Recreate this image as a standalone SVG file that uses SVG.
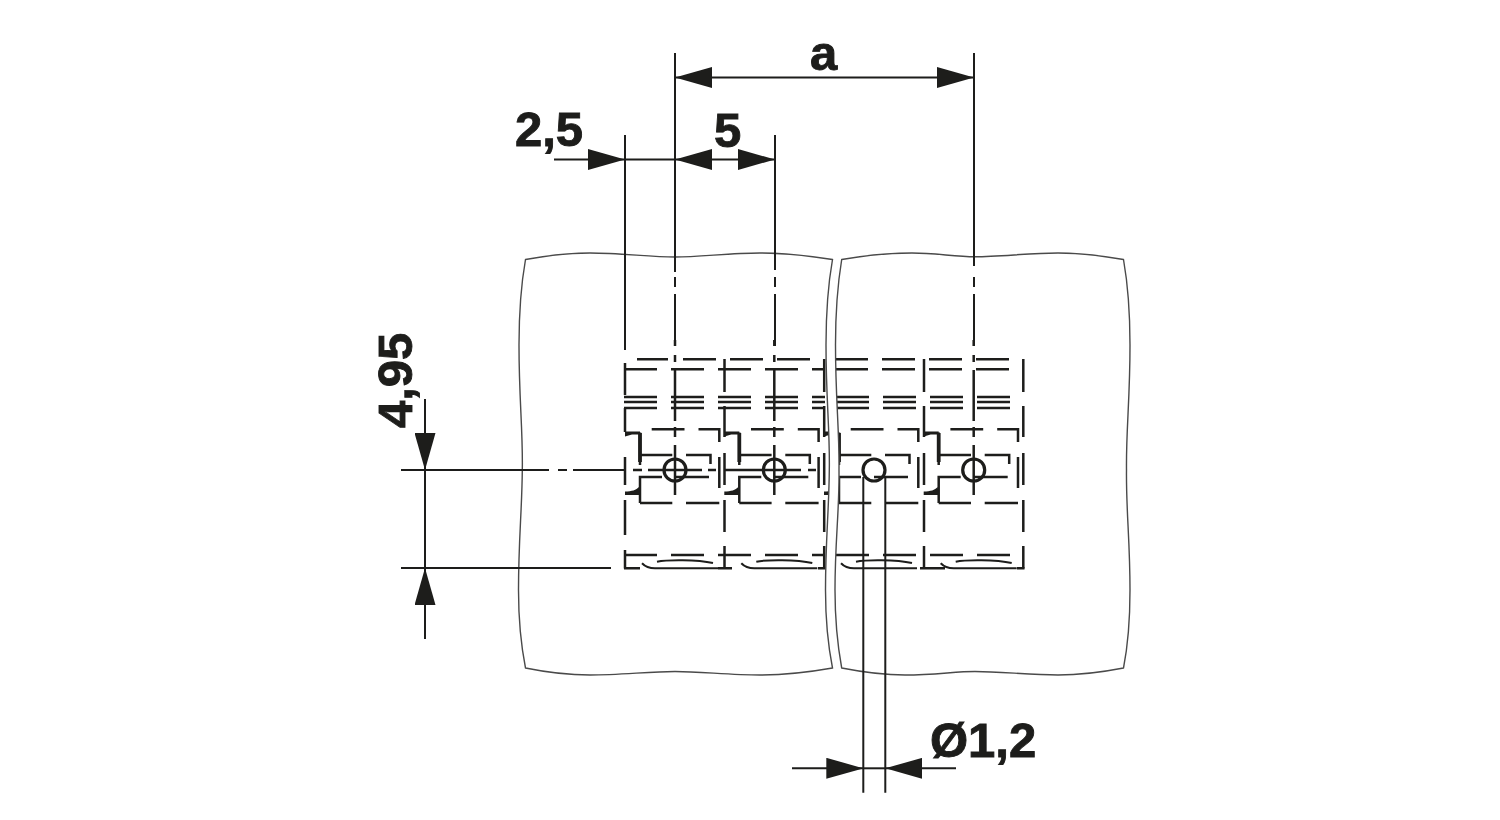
<svg xmlns="http://www.w3.org/2000/svg" xmlns:xlink="http://www.w3.org/1999/xlink" width="1500" height="820" viewBox="0 0 1500 820">
<style>
.edge{fill:none;stroke:#4a4a4a;stroke-width:1.4}
.dash{fill:none;stroke:#1d1d1b;stroke-width:2.5}
.dim{fill:none;stroke:#1d1d1b;stroke-width:2}
.arr{fill:none;stroke:#1d1d1b;stroke-width:2}
.thick{fill:none;stroke:#1d1d1b;stroke-width:3.8}
.solid{fill:#1d1d1b;stroke:none}
.hole{fill:none;stroke:#1d1d1b;stroke-width:3.2}
.label{font-family:"Liberation Sans",Arial,sans-serif;font-weight:700;font-size:49px;fill:#1d1d1b;stroke:#1d1d1b;stroke-width:.9}
</style>
<defs>
<marker id="tip" markerUnits="userSpaceOnUse" markerWidth="37" markerHeight="21" viewBox="0 -10.5 37 21" refX="37" refY="0" orient="auto"><path d="M0-10.5L37 0L0 10.5Z" fill="#1d1d1b"/></marker>
<g id="pin">
<path class="dash" d="M-23.3 429.3H9.5M23.5 429.3H44.3V442M44.3 457V488M-35 432.5V465M-35 455H-2.7M11 455H35.5V464M-35 503V477H-13M0 477H34M-35 503H-2.7M11 503H44.3"/>
<path class="dash" style="stroke-width:2" d="M-33 563.3C-30 566.5-26 568.3-20 568.3H43M-18 561.7C-8 559.6 22 559.4 38 563"/>
<circle class="hole" cx="0" cy="470" r="11"/>
</g>
<g id="step">
<path class="thick" d="M-35 433V462"/>
<path class="solid" d="M-50 431.5H-35V434.5H-43L-50 436.5ZM-50 491.5C-43 491.5-39 490-36 487L-35 495H-50Z"/>
</g>
<path id="axis" class="dash" d="M0 340V346M0 355V362M0 370V421M0 427V437M0 445V495"/>
<path id="post" class="dash" d="M0 359V392M0 406V437M0 453V485M0 500V532M0 546V568.5"/>
</defs>

<g id="cell-1">
<use xlink:href="#pin" href="#pin" x="675"/><use xlink:href="#step" href="#step" x="675"/><use xlink:href="#axis" href="#axis" x="675"/>
<path class="dash" d="M625 363V395M625 408V432M625 457V485M625 500V535M625 550V568.5M637 359.3H668M683 359.3H716M625 369.3H657M671 369.3H704M624 397H657M671 397H704M624 402H657M671 402H704M624 408H657M671 408H704M625 555H657M671 555H704M624 568.3H640M633 470H642M648 470H702M708 470H716"/>
</g>
<g id="cell-2">
<use xlink:href="#pin" href="#pin" x="774.3"/><use xlink:href="#step" href="#step" x="774.3"/><use xlink:href="#axis" href="#axis" x="774.3"/><use xlink:href="#post" href="#post" x="724.5"/><use xlink:href="#post" href="#post" x="824.2"/>
<path class="dash" d="M730 359.3H763M777 359.3H810M718 369.3H751M765 369.3H798M812 369.3H825M718 397H751M765 397H798M812 397H825M718 402H751M765 402H798M812 402H825M718 408H751M765 408H798M812 408H825M718 555H751M765 555H798M812 555H825M718 568.3H732M818 568.3H826M725 470H801M808 470H816"/>
</g>
<g id="cell-3">
<use xlink:href="#pin" href="#pin" x="874"/><use xlink:href="#step" href="#step" x="874"/>
<path class="dash" d="M836 359.3H868M882 359.3H915M836 369.3H868M882 369.3H915M837 397H869M883 397H916M837 402H869M883 402H916M837 408H869M883 408H916M836 555H869M883 555H916"/>
</g>
<g id="cell-4">
<use xlink:href="#pin" href="#pin" x="973.7"/><use xlink:href="#step" href="#step" x="973.7"/><use xlink:href="#axis" href="#axis" x="973.7"/><use xlink:href="#post" href="#post" x="924"/><use xlink:href="#post" href="#post" x="1023.3"/>
<path class="dash" d="M929 359.3H962M976 359.3H1009M929 369.3H962M976 369.3H1009M930 397H963M977 397H1010M930 402H963M977 402H1010M930 408H963M977 408H1010M930 555H963M977 555H1010M920 568.3H945M1017 568.3H1024.5"/>
</g>

<g id="board-gap"><path fill="#fff" stroke="none" d="M832.5 259.5C828 285 826 320 826 345C826 400 830 430 829.3 470C829 510 825.5 540 825.5 590C825.5 620 828 645 832.5 668H841.7C837.5 645 835 620 835 590C835 540 839.5 510 839 470C839.5 430 835.5 400 835.5 345C835.5 320 837.5 285 841.7 259.5Z"/></g>

<g id="board-1"><path class="edge" d="M525.5 259.5C545 256 565 253 590 253C620 253 650 257 675 257C700 257 730 253 760 253C785 253 810 256 832.5 259.5C828 285 826 320 826 345C826 400 830 430 829.3 470C829 510 825.5 540 825.5 590C825.5 620 828 645 832.5 668C810 672 785 675 760 675C730 675 700 671.5 675 671.5C650 671.5 620 675 590 675C565 675 545 672 525.5 668C521 645 518.5 620 518.5 590C518.5 540 522 510 522.3 470C523 430 519 400 519 345C519 320 521 285 525.5 259.5Z"/></g>
<g id="board-2"><path class="edge" d="M841.7 259.5C862 256 885 253 912 253C935 253 955 256.7 975 256.7C1000 256.7 1030 253 1058 253C1082 253 1103 256 1123.5 259.5C1128 285 1130 320 1130 345C1130 400 1126 430 1126.5 470C1126 510 1130 540 1130 590C1130 620 1128 645 1123.5 668C1103 672 1082 675 1058 675C1030 675 1000 671.5 975 671.5C955 671.5 935 675 905 675C885 675 862 672 841.7 668C837.5 645 835 620 835 590C835 540 839.5 510 839 470C839.5 430 835.5 400 835.5 345C835.5 320 837.5 285 841.7 259.5Z"/></g>

<g id="connectors">
<path class="dim" d="M675 53V272M675 277V287M675 294V346M974 53V266M974 277V287M974 294V346M625 135V350M775 135V270M775 277V287M775 294V346"/>
<path class="arr" marker-end="url(#tip)" d="M824 77.5H675"/>
<path class="arr" marker-end="url(#tip)" d="M824 77.5H974"/>
<path class="arr" marker-end="url(#tip)" d="M554 159.5H625"/>
<path class="arr" d="M625 159.5H675"/>
<path class="arr" marker-end="url(#tip)" d="M725 159.5H675"/>
<path class="arr" marker-end="url(#tip)" d="M725 159.5H775"/>
<path class="dim" d="M401 470H549M558 470H567M573 470H625M401 568H611"/>
<path class="arr" marker-end="url(#tip)" d="M425 399V470"/>
<path class="arr" marker-end="url(#tip)" d="M425 639V568"/>
<path class="arr" d="M425 470V568"/>
<path class="dim" d="M863.3 477V792.7M885.3 477V792.7"/>
<path class="arr" marker-end="url(#tip)" d="M792 768.3H863.3"/>
<path class="arr" marker-end="url(#tip)" d="M956 768.3H885.3"/>
<path class="arr" d="M863.3 768.3H885.3"/>
</g>

<g id="labels">
<text class="label" x="810" y="70">a</text>
<text class="label" x="515" y="146">2,5</text>
<text class="label" x="714" y="147">5</text>
<text class="label" x="930" y="757">Ø1,2</text>
<text class="label" transform="translate(412 428) rotate(-90)">4,95</text>
</g>
</svg>
